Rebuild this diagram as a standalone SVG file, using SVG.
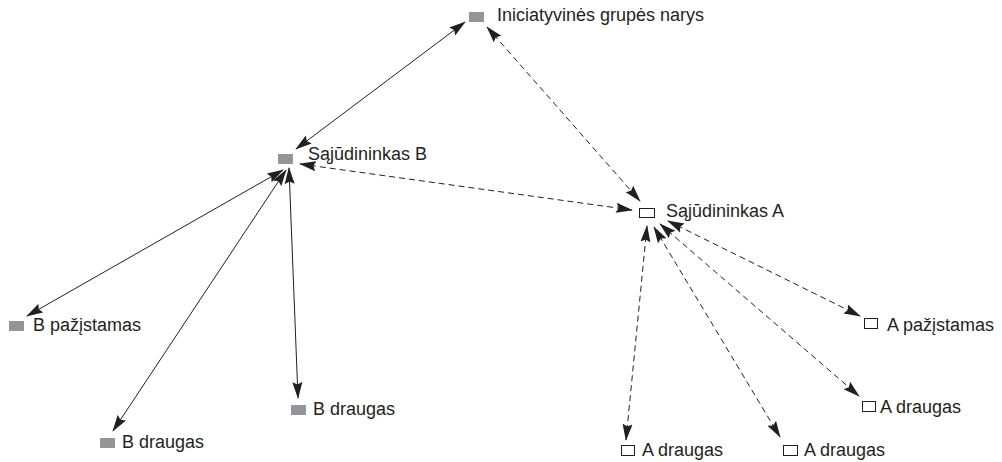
<svg xmlns="http://www.w3.org/2000/svg" width="1002" height="462" viewBox="0 0 1002 462">
<style>
text{font-family:"Liberation Sans",Arial,sans-serif;font-size:18px;fill:#231f20}
.g{fill:#939598;stroke:none}
.w{fill:#fff;stroke:#231f20;stroke-width:1}
.c{stroke:#231f20;stroke-width:1;fill:none;marker-start:url(#ah);marker-end:url(#ah)}
.d{stroke-dasharray:6 4}
</style>
<defs>
<marker id="ah" markerUnits="userSpaceOnUse" markerWidth="17" markerHeight="11" refX="16" refY="5" orient="auto-start-reverse" viewBox="0 0 17 10">
<path d="M0,0 L17,5 L0,10 L2.5,5 Z" fill="#231f20"/>
</marker>
</defs>
<g id="connectors">
<line class="c" x1="465" y1="22" x2="296" y2="149"/>
<line class="c d" x1="487" y1="27" x2="640" y2="201"/>
<line class="c d" x1="300" y1="164" x2="632" y2="210"/>
<line class="c" x1="283" y1="170" x2="27" y2="316"/>
<line class="c" x1="286" y1="170" x2="113" y2="431"/>
<line class="c" x1="289" y1="168" x2="298" y2="398"/>
<line class="c d" x1="647" y1="226" x2="626" y2="440"/>
<line class="c d" x1="654" y1="227" x2="780" y2="437"/>
<line class="c d" x1="660" y1="224" x2="859" y2="396"/>
<line class="c d" x1="668" y1="221" x2="860" y2="316"/>
</g>
<g id="n-init"><rect class="g" x="469" y="12" width="15" height="10"/><text x="497" y="21">Iniciatyvinės grupės narys</text></g>
<g id="n-sajB"><rect class="g" x="278" y="154" width="15" height="10"/><text x="308" y="160">Sąjūdininkas B</text></g>
<g id="n-sajA"><rect class="w" x="639.5" y="208.5" width="15" height="9"/><text x="666" y="217">Sąjūdininkas A</text></g>
<g id="n-Bpaz"><rect class="g" x="9" y="321" width="15" height="10"/><text x="33" y="331">B pažįstamas</text></g>
<g id="n-Bdr1"><rect class="g" x="100" y="438" width="15" height="10"/><text x="122" y="448">B draugas</text></g>
<g id="n-Bdr2"><rect class="g" x="291" y="405" width="15" height="10"/><text x="313" y="415">B draugas</text></g>
<g id="n-Apaz"><rect class="w" x="864.5" y="318.5" width="13" height="10"/><text x="887" y="331">A pažįstamas</text></g>
<g id="n-Adr1"><rect class="w" x="862.5" y="401.5" width="13" height="10"/><text x="880" y="413">A draugas</text></g>
<g id="n-Adr2"><rect class="w" x="621.5" y="445.5" width="13" height="10"/><text x="642" y="456">A draugas</text></g>
<g id="n-Adr3"><rect class="w" x="783.5" y="445.5" width="14" height="10"/><text x="804" y="456">A draugas</text></g>
</svg>
